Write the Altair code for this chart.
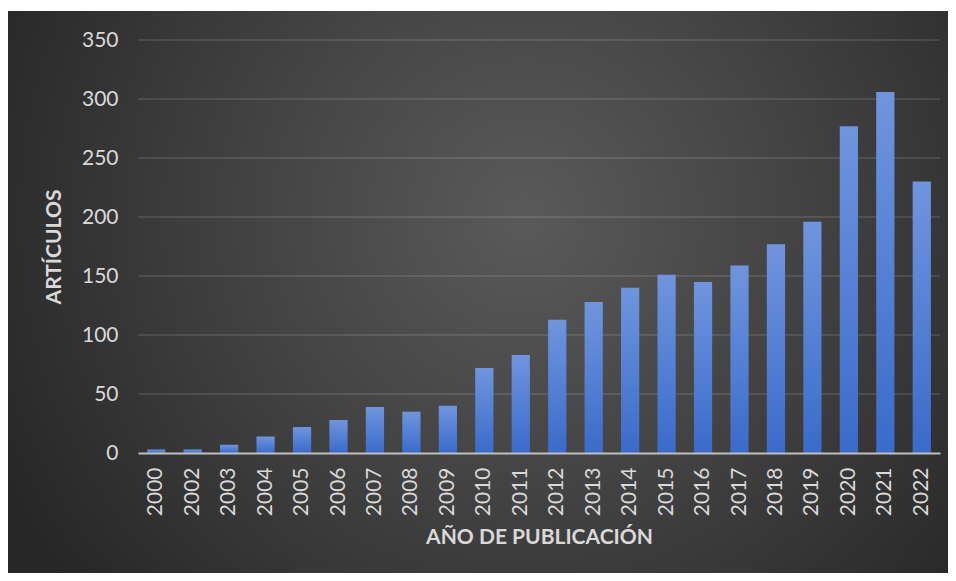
import altair as alt
import pandas as pd

years = ["2000", "2002", "2003", "2004", "2005", "2006", "2007", "2008", "2009", "2010", "2011",
         "2012", "2013", "2014", "2015", "2016", "2017", "2018", "2019", "2020", "2021", "2022"]
articles = [3, 3, 7, 14, 22, 28, 39, 35, 40, 72, 83,
            113, 128, 140, 151, 145, 159, 177, 196, 277, 306, 230]
grid_ticks = [50, 100, 150, 200, 250, 300, 350]
y_ticks = [0, 50, 100, 150, 200, 250, 300, 350]

df = pd.DataFrame({"year": years, "n": articles})
grid_df = pd.DataFrame({"tick": grid_ticks})
bg_df = pd.DataFrame({"a": [0]})

W, H = 802, 413
LABEL = "#d9d9d9"

background = alt.Chart(bg_df).mark_rect(
    fill=alt.Gradient(
        gradient="radial",
        stops=[alt.GradientStop(color="#5a5a5a", offset=0),
               alt.GradientStop(color="#444444", offset=0.45),
               alt.GradientStop(color="#272727", offset=1)],
        x1=0.55, y1=0.42, x2=0.55, y2=0.42, r1=0, r2=0.62,
    )
).encode(
    x=alt.value(-130), x2=alt.value(810), y=alt.value(-29), y2=alt.value(533)
)

grid = alt.Chart(grid_df).mark_rule(color="#ffffff", opacity=0.14, strokeWidth=1.5).encode(
    y=alt.Y("tick:Q", title="ARTÍCULOS", scale=alt.Scale(domain=[0, 350]))
)

bars = alt.Chart(df).mark_bar(
    color=alt.Gradient(
        gradient="linear",
        stops=[alt.GradientStop(color="#7095de", offset=0),
               alt.GradientStop(color="#3a6bcb", offset=1)],
        x1=0, x2=0, y1=0, y2=1,
    )
).encode(
    x=alt.X("year:O", title="AÑO DE PUBLICACIÓN",
            scale=alt.Scale(paddingInner=0.5, paddingOuter=0.25),
            axis=alt.Axis(labelAngle=270, labelPadding=14, domain=True, domainColor="#bfbfbf",
                          domainWidth=2, ticks=False, grid=False, titlePadding=11, zindex=1)),
    y=alt.Y("n:Q", title="ARTÍCULOS", scale=alt.Scale(domain=[0, 350]),
            axis=alt.Axis(values=y_ticks, domain=False, ticks=False, grid=False,
                          labelPadding=20, titlePadding=17, zindex=1)),
)

chart = alt.layer(background, grid, bars).properties(
    width=W, height=H, background="white",
    padding={"left": 0, "top": 3, "right": 0, "bottom": 0},
).configure_view(strokeWidth=0).configure_axis(
    labelFont="Lato", labelFontSize=21, labelColor=LABEL,
    titleFont="Lato", titleFontSize=21, titleFontWeight="bold", titleColor=LABEL,
)

chart.save("out.html", embed_options={"renderer": "svg", "actions": False})
